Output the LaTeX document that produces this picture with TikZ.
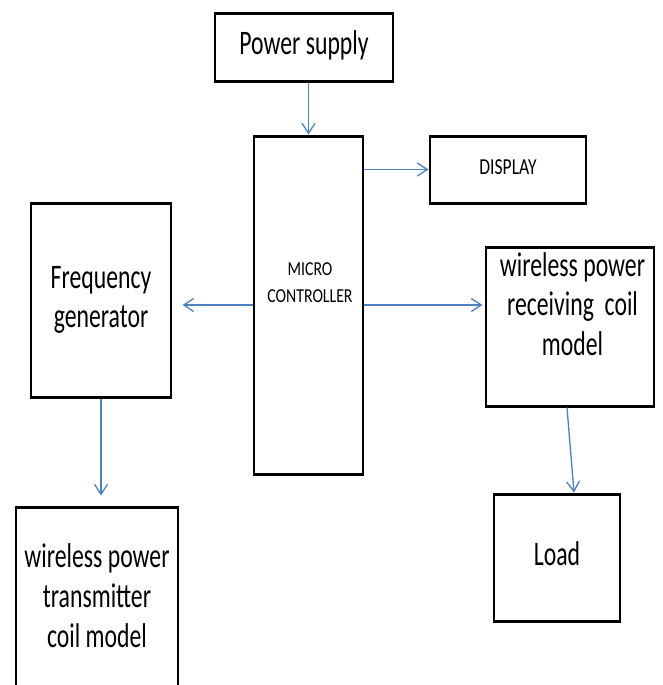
\documentclass[tikz,border=0pt]{standalone}
\usepackage{fontspec}
\setmainfont{Carlito}
\usepackage{graphicx}
\usetikzlibrary{arrows.meta}
% text in the drawing is taller than it is wide
\newcommand{\vstretch}[2][1.45]{\scalebox{1}[#1]{\begin{tabular}{@{}c@{}}#2\end{tabular}}}

\begin{document}
\begin{tikzpicture}[>={Straight Barb[length=0.2cm,width=0.26cm]},
  blk/.style={draw=black, line width=1.7pt, rectangle, inner sep=0pt,
    font=\fontsize{13.5}{15.65}\selectfont},
  txt/.style={inner sep=0pt, font=\fontsize{13.5}{15.65}\selectfont},
  sml/.style={inner sep=0pt, font=\fontsize{9}{12.25}\selectfont},
  wire/.style={->, draw={rgb,255:red,79;green,129;blue,189}, line width=0.75pt}]
  \useasboundingbox (0,0) rectangle (13.26,-13.7);
  % blocks
  \node[blk, minimum width=3.56cm, minimum height=1.36cm] (ps) at (6.08,-0.94) {\vstretch{Power supply}};
  \node[blk, minimum width=2.18cm, minimum height=6.76cm] (mc) at (6.17,-6.10) {};
  \node[sml] (mctxt) at (6.2,-5.67) {\vstretch[1.25]{MICRO\\CONTROLLER}};
  \node[blk, minimum width=3.12cm, minimum height=1.34cm,
    font=\fontsize{10}{12}\selectfont] (disp) at (10.16,-3.39) {\vstretch[1.3]{DISPLAY}};
  \node[blk, minimum width=2.8cm, minimum height=3.88cm] (freq) at (2.02,-6.0) {\vstretch{Frequency\\generator}};
  \node[blk, minimum width=3.36cm, minimum height=3.18cm] (rx) at (11.4,-6.53) {};
  \node[txt] (rxtxt) at (11.45,-6.16) {\vstretch{wireless power\\receiving\ \ coil\\model}};
  \node[blk, minimum width=2.52cm, minimum height=2.54cm] (load) at (11.14,-11.15) {\vstretch{Load}};
  \node[blk, minimum width=3.24cm, minimum height=3.7cm] (tx) at (1.94,-11.99)
    {\vstretch{wireless power\\transmitter\\coil model}};
  % connections
  \draw[wire] (mc.north |- ps.south) -- (mc.north);
  \draw[wire] (mc.east |- disp.west) -- (disp.west);
  \draw[wire, shorten >=0.2cm] (mc.west) -- (freq.east |- mc.west);
  \draw[wire, shorten >=0.04cm] (mc.east) -- (rx.west |- mc.east);
  \draw[wire] ([xshift=-0.06cm]rx.south) -- ([xshift=0.34cm]load.north);
  \draw[wire, shorten >=0.2cm] (freq.south) -- (freq.south |- tx.north);
\end{tikzpicture}
\end{document}
